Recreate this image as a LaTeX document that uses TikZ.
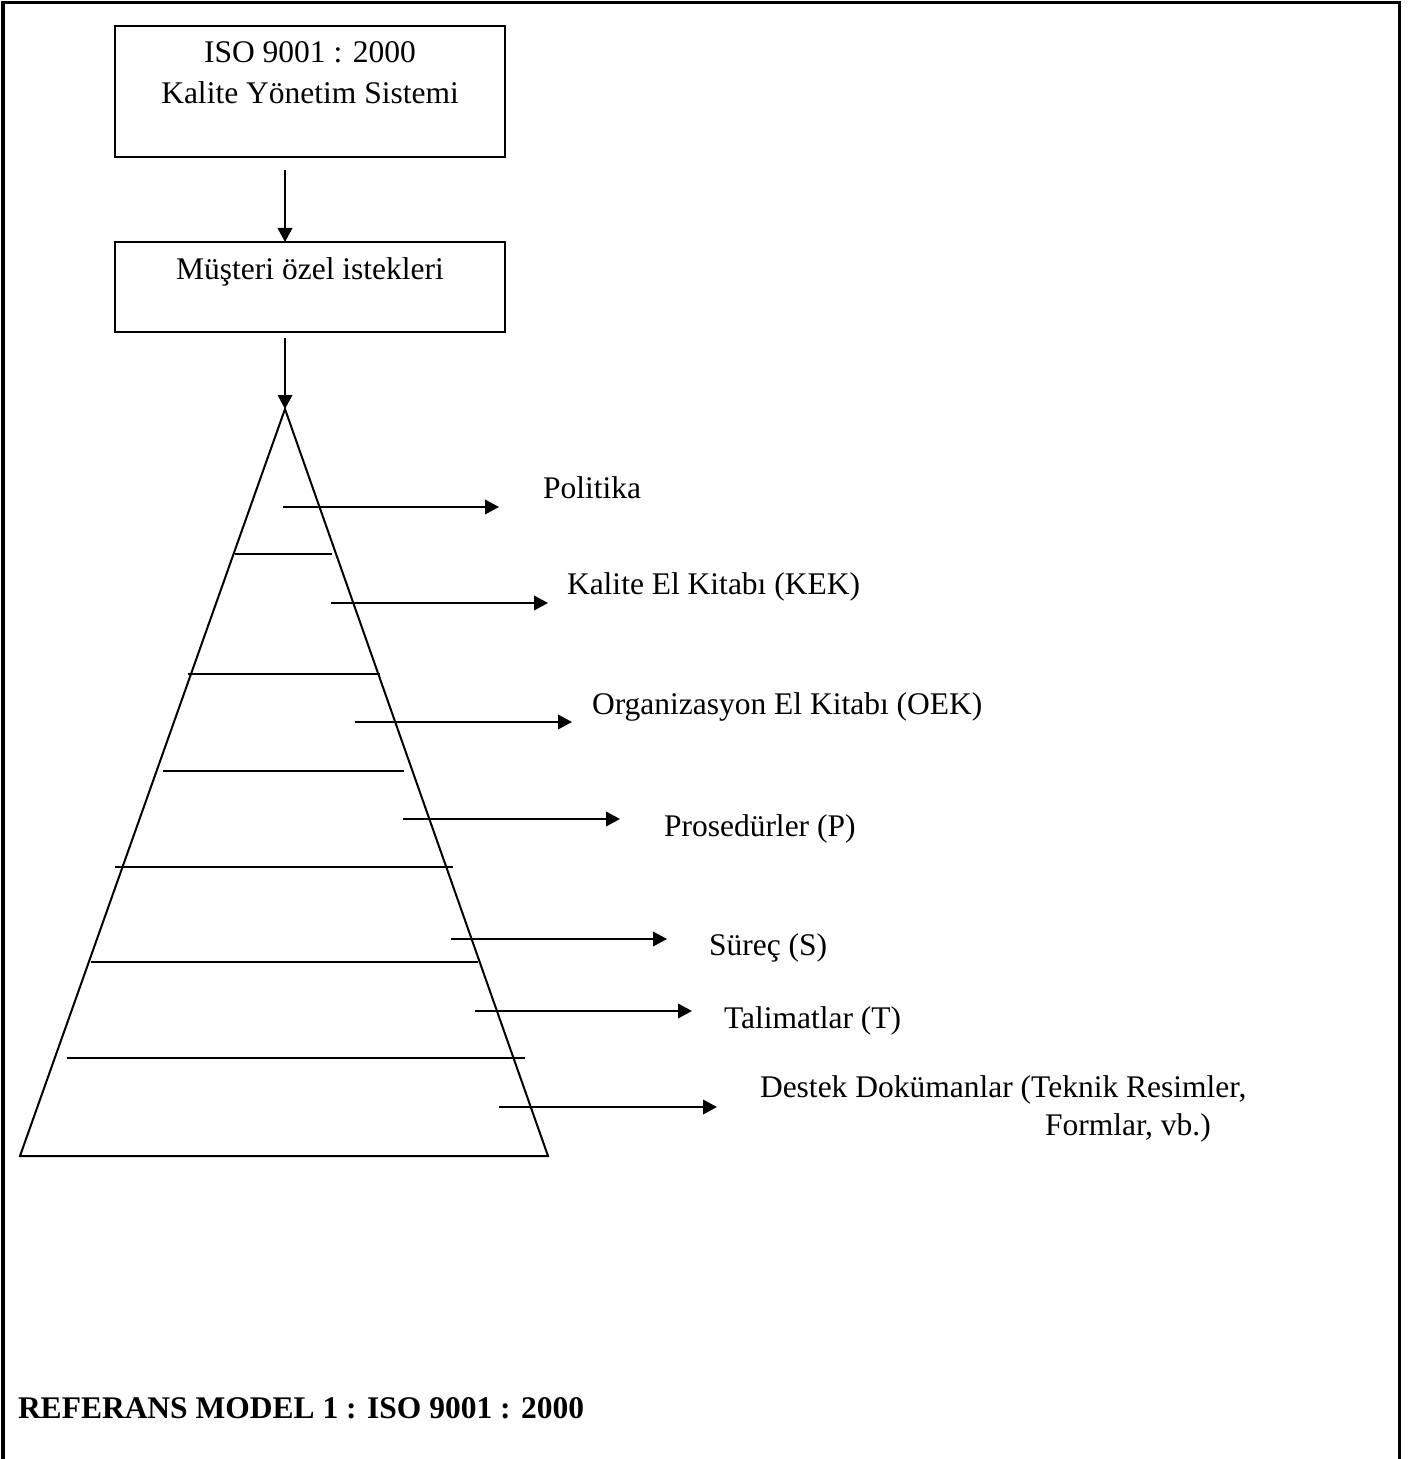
\documentclass[tikz,border=0pt]{standalone}
\usepackage{fontspec}
\setmainfont{Liberation Serif}
\usetikzlibrary{arrows.meta}
\begin{document}
\begin{tikzpicture}[x=0.4pt,y=-0.4pt,
  every node/.style={font=\fontsize{12.6pt}{16.4pt}\selectfont, inner sep=0pt, outer sep=0pt},
  frame/.style={line width=1.2pt},
  thin line/.style={line width=0.8pt},
  box/.style={draw, line width=0.8pt, minimum width=156pt},
  arr/.style={line width=0.8pt, -{Triangle[length=5.6pt,width=5.8pt]}},
  lbl/.style={anchor=base west},
  boxtext/.style={anchor=base},
  line join=miter]
\useasboundingbox (0,0) rectangle (1413,1459);

% page frame, open at the bottom
\draw[frame] (3,1462) -- (3,2.5) -- (1399,2.5) -- (1399,1462);

% standard and customer requirements
\node[box, minimum height=52.4pt] (iso) at (310,91.5) {};
\node[boxtext] (isoa) at (310,63) {ISO 9001 : 2000};
\node[boxtext] (isob) at (310,104) {Kalite Yönetim Sistemi};

\node[box, minimum height=36pt] (req) at (310,287) {};
\node[boxtext] (reqt) at (310,279) {Müşteri özel istekleri};

% document pyramid
\coordinate (apex) at (285,409);
\coordinate (bl) at (20,1156);
\coordinate (br) at (548,1156);

\draw[arr, shorten <=5.2pt] (iso.south -| apex) -- (req.north -| apex);
\draw[arr, shorten <=2.4pt] (req.south -| apex) -- (apex);

\draw[thin line] (apex) -- (bl) -- (br) -- cycle;

% level separators
\draw[thin line] (235,554) -- (332,554);
\draw[thin line] (188,674) -- (380,674);
\draw[thin line] (163,771) -- (404,771);
\draw[thin line] (115,867) -- (453,867);
\draw[thin line] (91,962) -- (478,962);
\draw[thin line] (67,1058) -- (525,1058);

% level labels
\node[lbl] (l1) at (543,498) {Politika};
\node[lbl] (l2) at (567,594) {Kalite El Kitabı (KEK)};
\node[lbl] (l3) at (592,714) {Organizasyon El Kitabı (OEK)};
\node[lbl] (l4) at (664,836) {Prosedürler (P)};
\node[lbl] (l5) at (709,955) {Süreç (S)};
\node[lbl] (l6) at (724,1028) {Talimatlar (T)};
\node[lbl] (l7) at (760,1097) {Destek Dokümanlar (Teknik Resimler,};
\node[lbl] (l7b) at (1045,1135) {Formlar, vb.)};

% pointers from each level
\coordinate (s1) at (283,507);  \coordinate (e1) at (499,507);
\coordinate (s2) at (331,603);  \coordinate (e2) at (548,603);
\coordinate (s3) at (355,722);  \coordinate (e3) at (572,722);
\coordinate (s4) at (403,819);  \coordinate (e4) at (620,819);
\coordinate (s5) at (451,939);  \coordinate (e5) at (667,939);
\coordinate (s6) at (475,1011); \coordinate (e6) at (692,1011);
\coordinate (s7) at (499,1107); \coordinate (e7) at (717,1107);
\foreach \i in {1,...,7} \draw[arr] (s\i) -- (e\i);

% caption
\node[lbl, font=\fontsize{12.6pt}{16.4pt}\selectfont\bfseries] (cap) at (18,1418) {REFERANS MODEL 1 : ISO 9001 : 2000};
\end{tikzpicture}
\end{document}
